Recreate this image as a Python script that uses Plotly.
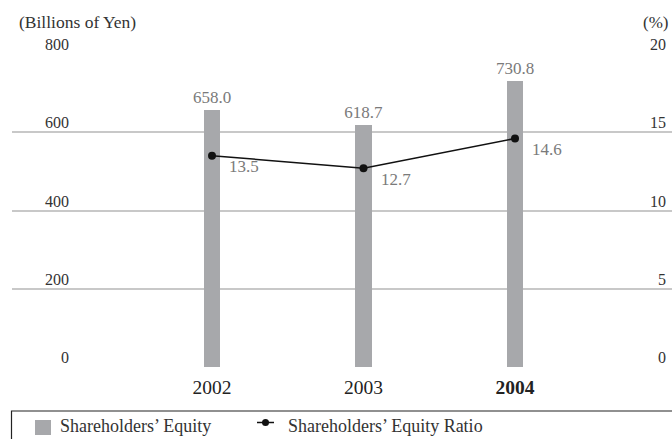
import plotly.graph_objects as go

years = [2002, 2003, 2004]
year_labels = ["2002", "2003", "<b>2004</b>"]
equity = [658.0, 618.7, 730.8]
equity_ratio = [13.5, 12.7, 14.6]
left_ticks = [0, 200, 400, 600, 800]
right_ticks = [0, 5, 10, 15, 20]

FONT = "'Liberation Serif', 'DejaVu Serif', serif"
W, H = 672, 439
PL, PR, PT, PB = 12, 672, 54, 367  # plot area in px


def px_x(px):
    return (px - PL) / (PR - PL)


def px_y(py):
    return (PB - py) / (PB - PT)


fig = go.Figure()
fig.add_trace(go.Bar(
    x=years, y=equity, width=0.106, marker_color="#a7a8ab",
    marker_line_width=0,
    texttemplate="%{y:.1f}", textposition="outside", constraintext="none",
    cliponaxis=False,
    textfont=dict(family=FONT, size=17, color="#7a7a7a"),
    name="Shareholders' Equity", showlegend=False,
))
fig.add_trace(go.Scatter(
    x=years, y=equity_ratio, yaxis="y2", mode="lines+markers",
    line=dict(color="#111111", width=1.5),
    marker=dict(color="#111111", size=8),
    name="Shareholders' Equity Ratio", showlegend=False,
))

ann = []
for v in left_ticks:
    ann.append(dict(x=px_x(71), xref="paper", y=v, yref="y", text=str(v),
                    xanchor="right", yanchor="bottom", showarrow=False, yshift=-1,
                    font=dict(family=FONT, size=16, color="#333333")))
for v in right_ticks:
    ann.append(dict(x=px_x(668), xref="paper", y=v, yref="y2", text=str(v),
                    xanchor="right", yanchor="bottom", showarrow=False, yshift=-1,
                    font=dict(family=FONT, size=16, color="#333333")))
for x, v in zip(years, equity_ratio):
    ann.append(dict(x=x, y=v, yref="y2", text=f"{v:.1f}", xanchor="left",
                    yanchor="middle", xshift=15, yshift=-11, showarrow=False,
                    font=dict(family=FONT, size=17, color="#7a7a7a")))
ann.append(dict(x=px_x(17), xref="paper", y=px_y(34), yref="paper",
                text="(Billions of Yen)", xanchor="left", yanchor="bottom",
                showarrow=False, font=dict(family=FONT, size=17.5, color="#333333")))
ann.append(dict(x=px_x(670), xref="paper", y=px_y(34), yref="paper",
                text="(%)", xanchor="right", yanchor="bottom",
                showarrow=False, font=dict(family=FONT, size=17, color="#333333")))
# legend texts
ann.append(dict(x=px_x(58), xref="paper", y=px_y(426), yref="paper",
                text="Shareholders’ Equity", xanchor="left", yanchor="middle",
                showarrow=False, font=dict(family=FONT, size=18, color="#333333")))
ann.append(dict(x=px_x(286), xref="paper", y=px_y(426), yref="paper",
                text="Shareholders’ Equity Ratio", xanchor="left", yanchor="middle",
                showarrow=False, font=dict(family=FONT, size=18, color="#333333")))

shapes = [
    # legend frame (extends beyond the page)
    dict(type="rect", xref="paper", yref="paper", x0=px_x(11.5), x1=px_x(700),
         y0=px_y(411), y1=px_y(470), line=dict(color="#222222", width=1.2),
         fillcolor="rgba(0,0,0,0)"),
    # legend swatch
    dict(type="rect", xref="paper", yref="paper", x0=px_x(35), x1=px_x(51),
         y0=px_y(435), y1=px_y(420), line=dict(width=0), fillcolor="#a7a8ab"),
    # legend line
    dict(type="line", xref="paper", yref="paper", x0=px_x(257), x1=px_x(274),
         y0=px_y(422.5), y1=px_y(422.5), line=dict(color="#111111", width=1.5)),
    dict(type="circle", xref="paper", yref="paper", x0=px_x(262), x1=px_x(269),
         y0=px_y(419), y1=px_y(426), line=dict(width=0), fillcolor="#111111"),
]

fig.update_layout(
    width=W, height=H,
    margin=dict(l=PL, r=W - PR, t=PT, b=H - PB),
    paper_bgcolor="white", plot_bgcolor="white",
    xaxis=dict(range=[2002 - (212 - PL) / 151.5, 2004 + (PR - 515) / 151.5],
               tickvals=years, ticktext=year_labels, showgrid=False,
               zeroline=False, showline=False, ticks="", ticklabelstandoff=6,
               tickfont=dict(family=FONT, size=19.5, color="#222222")),
    yaxis=dict(range=[0, 800], tickvals=left_ticks, showticklabels=False,
               showgrid=True, gridcolor="#c8c8c8", gridwidth=1.5, zeroline=False),
    yaxis2=dict(range=[0, 20], overlaying="y", side="right", showgrid=False,
                showticklabels=False, zeroline=False),
    annotations=ann, shapes=shapes, showlegend=False,
    bargap=0,
)

fig.write_html("out.html")
